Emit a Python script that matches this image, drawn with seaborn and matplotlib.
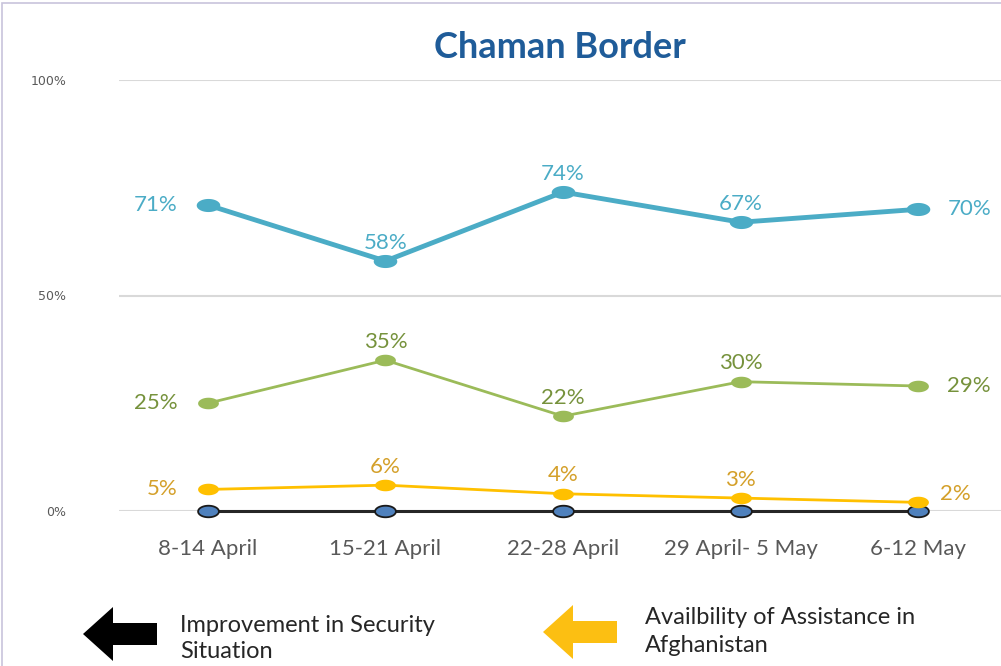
import matplotlib
matplotlib.use("Agg")
import matplotlib.pyplot as plt
from matplotlib.path import Path
from matplotlib.patches import Polygon, Rectangle
import numpy as np
import pandas as pd
import seaborn as sns

# data
weeks = ["8-14 April", "15-21 April", "22-28 April", "29 April- 5 May", "6-12 May"]
blue_vals = [71, 58, 74, 67, 70]
green_vals = [25, 35, 22, 30, 29]
yellow_vals = [5, 6, 4, 3, 2]
black_vals = [0, 0, 0, 0, 0]

sns.set_style("white")
plt.rcParams['font.family'] = ['Lato', 'DejaVu Sans']

W, H = 1001, 666
fig = plt.figure(figsize=(W / 100, H / 100), dpi=100)
ax = fig.add_axes([119 / W, (H - 511) / H, 888 / W, 431 / H])

# ellipse-shaped marker like the original
t = np.linspace(0, 2 * np.pi, 40)
ell = Path(np.column_stack([1.8 * np.cos(t), np.sin(t)]), closed=True)

df = pd.DataFrame({"week": weeks,
                   "blue": np.array(blue_vals) / 100,
                   "green": np.array(green_vals) / 100,
                   "yellow": np.array(yellow_vals) / 100,
                   "black": np.array(black_vals) / 100})

series = [
    # column, line colour, label colour, lw, marker fill, marker edge
    ("black", "#262626", None, 2.2, "#4F81BD", "#1a1a1a"),
    ("yellow", "#FFC000", "#D4A02A", 2.0, "#FFC000", "#FFC000"),
    ("green", "#9BBB59", "#76923C", 2.0, "#9BBB59", "#9BBB59"),
    ("blue", "#4BACC6", "#4BACC6", 3.5, "#4BACC6", "#4BACC6"),
]

for col, lc, tc, lw, mfc, mec in series:
    sns.lineplot(data=df, x="week", y=col, ax=ax, color=lc, lw=lw, marker=ell,
                 markersize=17 if col == "blue" else 15, markerfacecolor=mfc,
                 markeredgecolor=mec, markeredgewidth=1.3 if col == "black" else 0,
                 clip_on=False, sort=False, zorder=3)
    if tc is None:
        continue
    vals = df[col].values
    n = len(vals)
    for i, v in enumerate(vals):
        if i == 0:
            off, ha, va = (-22, 0), "right", "center"
        elif i == n - 1:
            off, ha, va = (21, 0), "left", "center"
        else:
            off, ha, va = (0, 6), "center", "bottom"
        if col == "yellow" and i == n - 1:
            off = (16, 6)
        ax.annotate(f"{int(round(v * 100))}%", (i, v), xytext=off,
                    textcoords="offset points", ha=ha, va=va,
                    color=tc, fontsize=16)

ax.set_xlim(-0.5, 4.5)
ax.set_ylim(0, 1)
ax.set_yticks([0, 0.5, 1])
ax.set_yticklabels(["0%", "50%", "100%"], family="DejaVu Sans", fontsize=9,
                   color="#595959")
ax.tick_params(axis="y", length=0, pad=38)
for lab in ax.get_yticklabels():
    lab.set_horizontalalignment("right")
ax.tick_params(axis="x", length=0, pad=20, labelsize=16, labelcolor="#595959")
ax.set_xlabel("")
ax.set_ylabel("")
for y in [0, 0.5, 1]:
    ax.axhline(y, color="#D9D9D9", lw=1.5, zorder=1)
sns.despine(ax=ax, left=True, bottom=True)

fig.text(560 / W, 1 - 47 / H, "Chaman Border", ha="center", va="center",
         fontsize=26, fontweight="bold", color="#1F5C99")

# frame lines at the top and left edges
fig.patches.append(Rectangle((2 / W, -0.05), 1, 1.05 - 3 / H, transform=fig.transFigure,
                             fill=False, edgecolor="#C8C4DC", lw=1.2))


def arrow(tip_x, cy, head_x, tail_x, half_head, half_shaft, color):
    pts = [(tip_x, cy), (head_x, cy - half_head), (head_x, cy - half_shaft),
           (tail_x, cy - half_shaft), (tail_x, cy + half_shaft),
           (head_x, cy + half_shaft), (head_x, cy + half_head)]
    pts = [(x / W, 1 - y / H) for x, y in pts]
    fig.patches.append(Polygon(pts, closed=True, transform=fig.transFigure,
                               facecolor=color, edgecolor="none"))


arrow(83, 634, 113, 157, 27, 11, "black")
arrow(543, 632, 573, 617, 27, 11, "#FCBF12")

fig.text(180 / W, 1 - 625 / H, "Improvement in Security", fontsize=17,
         color="#262626", va="center")
fig.text(180 / W, 1 - 652 / H, "Situation", fontsize=17,
         color="#262626", va="center")
fig.text(645 / W, 1 - 617 / H, "Availbility of Assistance in", fontsize=17,
         color="#262626", va="center")
fig.text(645 / W, 1 - 646 / H, "Afghanistan", fontsize=17,
         color="#262626", va="center")

fig.savefig("out.png", dpi=100)
